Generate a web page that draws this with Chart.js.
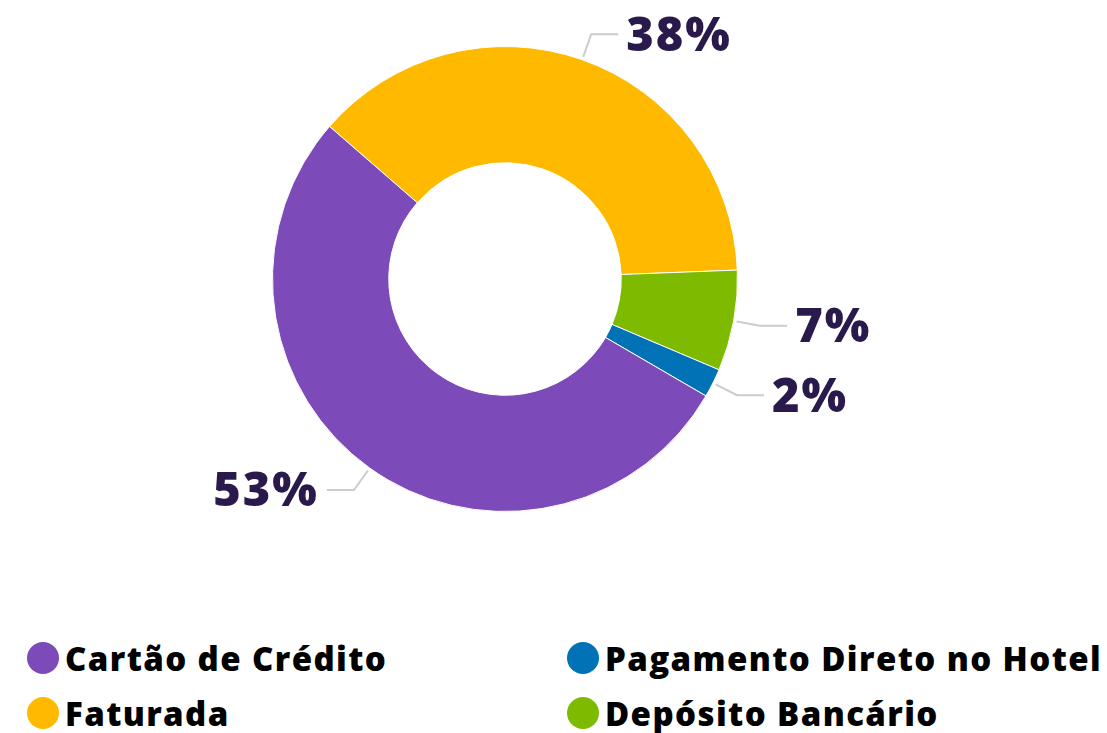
<!DOCTYPE html>
<html>
<head>
<meta charset="utf-8">
<script src="https://cdn.jsdelivr.net/npm/chart.js@4"></script>
<style>
    body { margin: 0; background: #fff; width: 1107px; height: 733px; position: relative; overflow: hidden; }
    #wrap { position: absolute; left: 0; top: 0; }
    .item { position: absolute; height: 40px; display: flex; align-items: center; font-family: 'Open Sans', sans-serif; font-weight: 800; font-size: 33px; letter-spacing: 1.4px; color: #000; white-space: nowrap; }
    .dot { width: 32px; height: 32px; border-radius: 50%; margin-right: 6px; flex: none; }
</style>
</head>
<body>
<div id="wrap"><canvas id="payChart" width="1107" height="600"></canvas></div>
<div id="legend"></div>
<script>
// Payment method shares (clockwise from the yellow slice)
const categories = ['Faturada', 'Depósito Bancário', 'Pagamento Direto no Hotel', 'Cartão de Crédito'];
const shares = [38, 7, 2, 53];
const sliceColors = ['#ffba00', '#7dba00', '#0072b5', '#7c4bb9'];
const legendOrder = ['Cartão de Crédito', 'Pagamento Direto no Hotel', 'Faturada', 'Depósito Bancário'];

// Percent labels with elbow leader lines
const leaderLabels = {
    id: 'leaderLabels',
    afterDatasetsDraw(chart) {
        const ctx = chart.ctx;
        const arcs = chart.getDatasetMeta(0).data;
        ctx.save();
        arcs.forEach((arc, i) => {
            const a = (arc.startAngle + arc.endAngle) / 2;
            const r = arc.outerRadius;
            const x0 = arc.x + Math.cos(a) * (r + 3);
            const y0 = arc.y + Math.sin(a) * (r + 3);
            const x1 = arc.x + Math.cos(a) * (r + 27);
            const y1 = arc.y + Math.sin(a) * (r + 27);
            const dir = Math.cos(a) >= 0 ? 1 : -1;
            const x2 = x1 + dir * 27;
            ctx.strokeStyle = '#cccccc';
            ctx.lineWidth = 2;
            ctx.beginPath();
            ctx.moveTo(x0, y0);
            ctx.lineTo(x1, y1);
            ctx.lineTo(x2, y1);
            ctx.stroke();
            ctx.fillStyle = '#2a1a4c';
            ctx.font = '800 47px "Open Sans", sans-serif';
            ctx.letterSpacing = '2px';
            ctx.textBaseline = 'middle';
            ctx.textAlign = dir > 0 ? 'left' : 'right';
            ctx.fillText(shares[i] + '%', x2 + dir * 8, y1 + 3);
        });
        ctx.restore();
    }
};

new Chart(document.getElementById('payChart').getContext('2d'), {
    type: 'doughnut',
    data: {
        labels: categories,
        datasets: [{
            data: shares,
            backgroundColor: sliceColors,
            borderColor: '#ffffff',
            borderWidth: 1
        }]
    },
    options: {
        responsive: false,
        animation: false,
        rotation: -49,
        cutout: '50%',
        layout: { padding: { left: 272, right: 369, top: 46, bottom: 88 } },
        plugins: {
            legend: { display: false },
            tooltip: { enabled: false }
        }
    },
    plugins: [leaderLabels]
});

// HTML legend, two columns
const legendEl = document.getElementById('legend');
const colX = [27, 567];
const rowY = [638, 693];
legendOrder.forEach((name, k) => {
    const idx = categories.indexOf(name);
    const item = document.createElement('div');
    item.className = 'item';
    item.style.left = colX[k % 2] + 'px';
    item.style.top = rowY[Math.floor(k / 2)] + 'px';
    item.innerHTML = '<span class="dot" style="background:' + sliceColors[idx] + '"></span>' + name;
    legendEl.appendChild(item);
});
</script>
</body>
</html>
